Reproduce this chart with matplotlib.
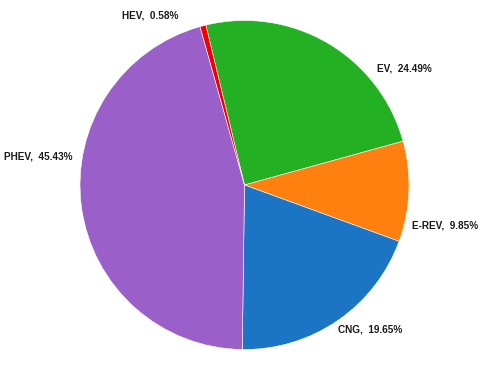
import matplotlib
matplotlib.use("Agg")
import matplotlib.pyplot as plt
import numpy as np

# ── Data ──
categories = ["EV", "E-REV", "CNG", "PHEV", "HEV"]
shares = [24.49, 9.85, 19.65, 45.43, 0.58]

colors = ["#23b023", "#ff800e", "#1c74c4", "#9a5fc9", "#f00000"]

# label anchor positions (data units, radius = 1) and alignment
label_pos = {
    "EV":    (0.805, 0.711, "left"),
    "E-REV": (1.018, -0.249, "left"),
    "CNG":   (0.568, -0.881, "left"),
    "PHEV":  (-1.043, 0.176, "right"),
    "HEV":   (-0.404, 1.033, "right"),
}

fig = plt.figure(figsize=(4.95, 3.86), dpi=100)
ax = fig.add_axes([0, 0, 1, 1])

ax.pie(
    shares, colors=colors, startangle=103.6, counterclock=False,
    radius=1.0, center=(0, 0),
    wedgeprops=dict(edgecolor="white", linewidth=0.4),
)

for cat, val in zip(categories, shares):
    x, y, ha = label_pos[cat]
    ax.text(x, y, f"{cat},  {val:.2f}%", ha=ha, va="center",
            fontsize=7.2, fontweight="bold", color="#1a1a1a",
            family="Liberation Sans")

# pixel mapping: center at (244.5, 185), radius 164.5 px
cx, cy, r = 244.5, 185, 164.5
ax.set_xlim(-cx / r, (495 - cx) / r)
ax.set_ylim(-(386 - cy) / r, cy / r)
ax.set_aspect("auto")
ax.axis("off")

fig.savefig("out.png", dpi=100, facecolor="white")
